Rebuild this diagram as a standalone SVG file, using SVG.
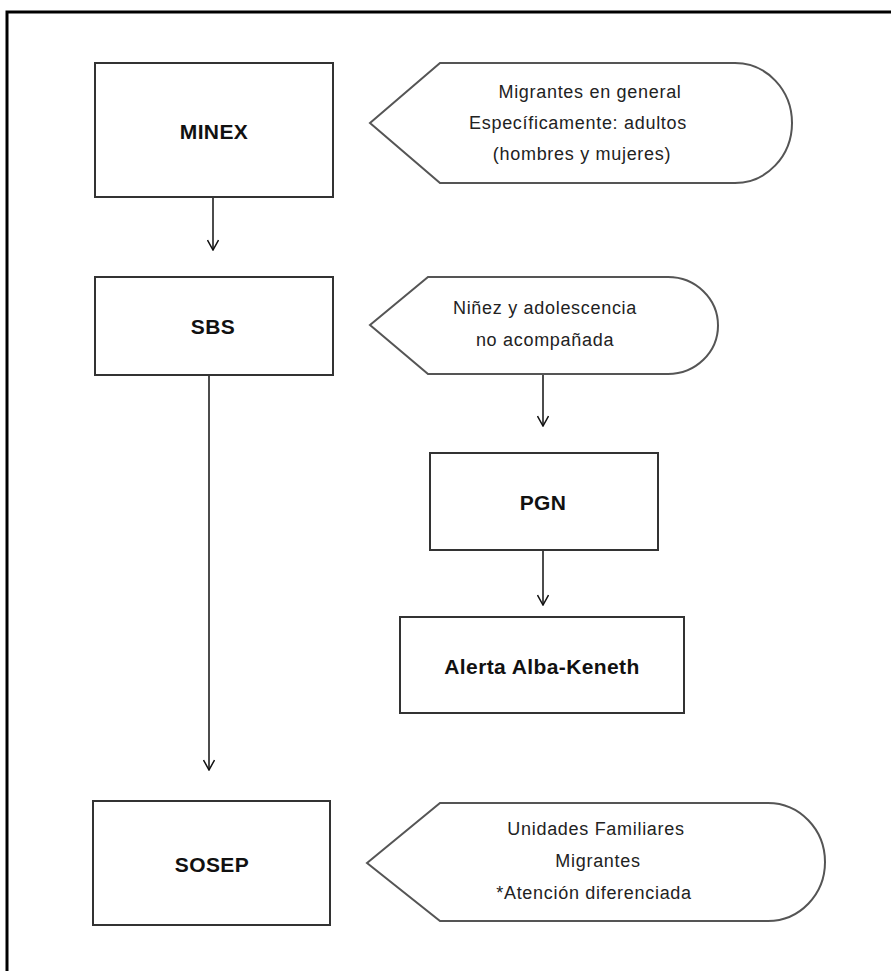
<svg xmlns="http://www.w3.org/2000/svg" width="891" height="971" viewBox="0 0 891 971">
<style>
.box{fill:#fff;stroke:#333;stroke-width:2}
.call{fill:#fff;stroke:#555;stroke-width:2}
.lbl{font-family:"Liberation Sans",Arial,sans-serif;font-weight:bold;font-size:21px;letter-spacing:0.4px;fill:#111;text-anchor:middle}
.txt{font-family:"Liberation Sans",Arial,sans-serif;font-size:18px;letter-spacing:0.7px;fill:#222;text-anchor:middle}
.con{stroke:#111;stroke-width:1.5;fill:none}
</style>
<defs>
<marker id="arr" viewBox="0 0 12 12" refX="11" refY="6" markerWidth="12" markerHeight="12" markerUnits="userSpaceOnUse" orient="auto">
<path d="M1,0.5 L11,6 L1,11.5" fill="none" stroke="#111" stroke-width="1.5"/>
</marker>
</defs>
<rect x="0" y="0" width="891" height="971" fill="#fff"/>
<rect x="7" y="12" width="900" height="990" fill="none" stroke="#000" stroke-width="3"/>
<g id="connectors">
<line class="con" x1="213" y1="197" x2="213" y2="250" marker-end="url(#arr)"/>
<line class="con" x1="543" y1="374" x2="543" y2="426" marker-end="url(#arr)"/>
<line class="con" x1="543" y1="550" x2="543" y2="605" marker-end="url(#arr)"/>
<line class="con" x1="209" y1="375" x2="209" y2="770" marker-end="url(#arr)"/>
</g>
<g id="minex">
<rect class="box" x="95" y="63" width="238" height="134"/>
<text class="lbl" x="214" y="139">MINEX</text>
</g>
<g id="callout-migrantes">
<path class="call" d="M370,123 L440,63 L735,63 A57,60 0 0 1 735,183 L440,183 Z"/>
<text class="txt" x="590" y="98">Migrantes en general</text>
<text class="txt" x="578" y="129">Específicamente: adultos</text>
<text class="txt" x="582" y="160">(hombres y mujeres)</text>
</g>
<g id="sbs">
<rect class="box" x="95" y="277" width="238" height="98"/>
<text class="lbl" x="213" y="334">SBS</text>
</g>
<g id="callout-ninez">
<path class="call" d="M370,325 L428,277 L668,277 A50,48.5 0 0 1 668,374 L428,374 Z"/>
<text class="txt" x="545" y="314">Niñez y adolescencia</text>
<text class="txt" x="545" y="346">no acompañada</text>
</g>
<g id="pgn">
<rect class="box" x="430" y="453" width="228" height="97"/>
<text class="lbl" x="543" y="510">PGN</text>
</g>
<g id="alerta">
<rect class="box" x="400" y="617" width="284" height="96"/>
<text class="lbl" x="542" y="674">Alerta Alba-Keneth</text>
</g>
<g id="sosep">
<rect class="box" x="93" y="801" width="237" height="124"/>
<text class="lbl" x="212" y="872">SOSEP</text>
</g>
<g id="callout-unidades">
<path class="call" d="M367,863 L440,803 L768,803 A57,59 0 0 1 768,921 L440,921 Z"/>
<text class="txt" x="596" y="835">Unidades Familiares</text>
<text class="txt" x="598" y="867">Migrantes</text>
<text class="txt" x="594" y="899">*Atención diferenciada</text>
</g>
</svg>
